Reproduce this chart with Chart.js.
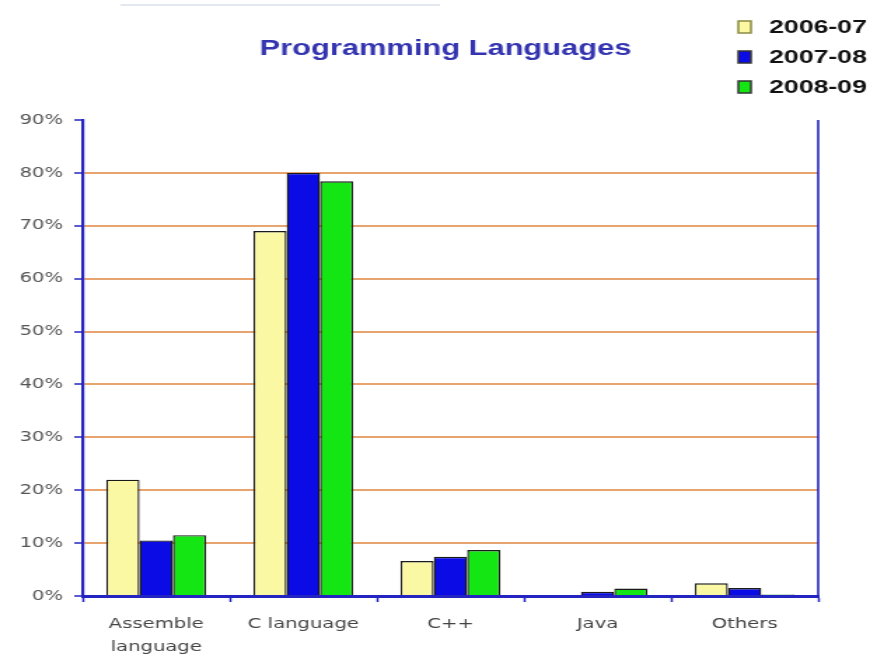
<!DOCTYPE html>
<html>
<head>
<meta charset="utf-8">
<script src="https://cdn.jsdelivr.net/npm/chart.js@4"></script>
<style>
  html, body { margin: 0; padding: 0; background: #fff; overflow: hidden; }
  #chart { width: 621px; height: 660px; transform: scaleX(1.401); transform-origin: 0 0; }
</style>
</head>
<body>
<canvas id="chart" width="621" height="660"></canvas>
<script>
const categories = [["Assemble", "language"], "C language", "C++", "Java", "Others"];
const seasons = ["2006-07", "2007-08", "2008-09"];
const share0607 = [22, 69, 6.6, 0.2, 2.4];
const share0708 = [10.5, 80, 7.4, 0.8, 1.5];
const share0809 = [11.5, 78.4, 8.7, 1.4, 0.3];
const yTicks = [0, 10, 20, 30, 40, 50, 60, 70, 80, 90];

const fills = ["#fbf8a4", "#0b0be6", "#14e614"];
const axisBlue = "#2424c0";

// title, legend and right frame line drawn on the canvas
const decor = {
  id: "decor",
  afterDraw(chart) {
    const ctx = chart.ctx;
    const area = chart.chartArea;
    ctx.save();
    ctx.strokeStyle = axisBlue;
    ctx.lineWidth = 1.6;
    ctx.beginPath();
    ctx.moveTo(area.right, area.top);
    ctx.lineTo(area.right, area.bottom);
    ctx.stroke();

    ctx.strokeStyle = "#e3e8ef";
    ctx.lineWidth = 2;
    ctx.beginPath();
    ctx.moveTo(86, 5);
    ctx.lineTo(314, 5);
    ctx.stroke();

    ctx.fillStyle = "#3434b0";
    ctx.font = "bold 22px 'Liberation Sans', Arial, sans-serif";
    ctx.textAlign = "center";
    ctx.textBaseline = "middle";
    ctx.fillText("Programming Languages", 318, 49);

    ctx.font = "bold 19px 'Liberation Sans', Arial, sans-serif";
    ctx.textAlign = "left";
    chart.data.datasets.forEach((ds, i) => {
      const y = 27 + i * 30;
      ctx.fillStyle = ds.backgroundColor;
      ctx.fillRect(527, y - 6, 9, 12);
      ctx.strokeStyle = i === 0 ? "#8a8a40" : "#333";
      ctx.lineWidth = 1.5;
      ctx.strokeRect(527, y - 6, 9, 12);
      ctx.fillStyle = "#111";
      ctx.fillText(ds.label, 549, y + 1);
    });
    ctx.restore();
  },
};

new Chart(document.getElementById("chart"), {
  type: "bar",
  data: {
    labels: categories,
    datasets: [share0607, share0708, share0809].map((d, i) => ({
      label: seasons[i],
      data: d,
      backgroundColor: fills[i],
      borderColor: "#1a1a1a",
      borderWidth: 1.4,
      borderSkipped: "bottom",
      categoryPercentage: 0.68,
      barPercentage: 1,
    })),
  },
  options: {
    responsive: false,
    animation: false,
    layout: { padding: { top: 120, right: 37, bottom: 0, left: 0 } },
    plugins: { legend: { display: false }, title: { display: false }, tooltip: { enabled: false } },
    scales: {
      x: {
        offset: true,
        grid: {
          offset: true,
          drawOnChartArea: false,
          drawTicks: true,
          tickLength: 6,
          tickColor: axisBlue,
          tickWidth: 1.5,
        },
        border: { color: axisBlue, width: 3 },
        ticks: {
          color: "#444",
          padding: 11,
          font: { family: "'DejaVu Sans', Verdana, sans-serif", size: 14, lineHeight: 1.65 },
        },
        afterFit(scale) { scale.height = 64; },
      },
      y: {
        min: 0,
        max: 90,
        afterBuildTicks(scale) { scale.ticks = yTicks.map(v => ({ value: v })); },
        grid: {
          color: c => (c.tick && c.tick.value === 90 ? "rgba(0,0,0,0)" : "#e8a46e"),
          lineWidth: 2,
          tickLength: 6,
          tickColor: axisBlue,
          tickWidth: 1.5,
        },
        border: { color: axisBlue, width: 2.2 },
        ticks: {
          color: "#555",
          padding: 8,
          font: { family: "'DejaVu Sans', Verdana, sans-serif", size: 14 },
          callback: v => v + "%",
        },
        afterFit(scale) { scale.width = 59; },
      },
    },
  },
  plugins: [decor],
});
</script>
</body>
</html>
